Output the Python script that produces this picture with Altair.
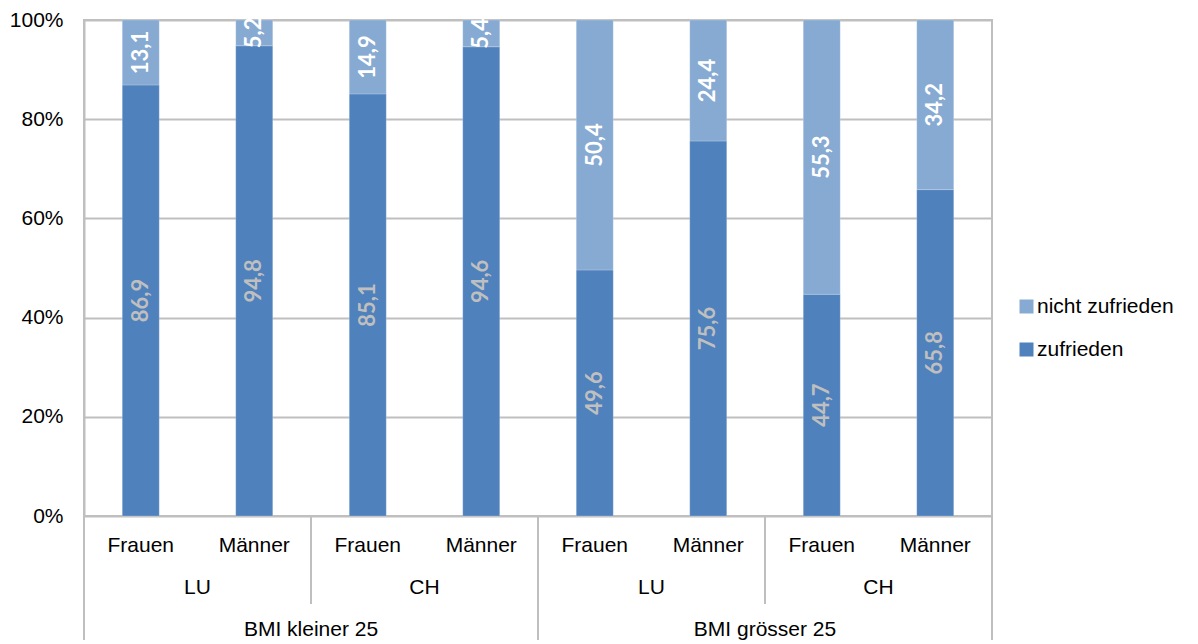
import altair as alt
import pandas as pd

bmi_groups = ["BMI kleiner 25", "BMI grösser 25"]
regions = ["LU", "CH"]
sexes = ["Frauen", "Männer"]
series = ["nicht zufrieden", "zufrieden"]
zufrieden = [86.9, 94.8, 85.1, 94.6, 49.6, 75.6, 44.7, 65.8]
nicht_zufrieden = [13.1, 5.2, 14.9, 5.4, 50.4, 24.4, 55.3, 34.2]
y_ticks = [0, 20, 40, 60, 80, 100]

colors = {"nicht zufrieden": "#87AAD2", "zufrieden": "#4F81BD"}

rows = []
sex_rows = []
for i in range(8):
    pos = i + 0.5
    rows.append({"pos": pos, "series": "zufrieden", "ord": 0, "v": zufrieden[i]})
    rows.append({"pos": pos, "series": "nicht zufrieden", "ord": 1, "v": nicht_zufrieden[i]})
    sex_rows.append({"pos": pos, "label": sexes[i % 2]})
df = pd.DataFrame(rows)
df_sex = pd.DataFrame(sex_rows)
df_reg = pd.DataFrame({"pos": [1 + 2 * k for k in range(4)],
                       "label": [regions[k % 2] for k in range(4)]})
df_bmi = pd.DataFrame({"pos": [2, 6], "label": bmi_groups})
df_sep_short = pd.DataFrame({"pos": [2, 6]})
df_sep_long = pd.DataFrame({"pos": [0, 4, 8]})

xs = alt.Scale(domain=[0, 8], nice=False, zero=False, padding=0)
FONT = "Liberation Sans"
FS = 21

bars = alt.Chart(df).mark_bar(size=37, stroke="#FFFFFF", strokeWidth=0.5, strokeOpacity=0.4).encode(
    x=alt.X("pos:Q", scale=xs, axis=None),
    y=alt.Y("v:Q", stack="zero", scale=alt.Scale(domain=[0, 100], nice=False),
            axis=alt.Axis(values=y_ticks, labelExpr="datum.value + '%'", title=None,
                          ticks=False, labelPadding=21, labelFontSize=FS, labelFont=FONT,
                          labelColor="#000000", domainColor="#BFBFBF", domainWidth=2,
                          gridColor="#BFBFBF", gridWidth=2)),
    color=alt.Color("series:N", scale=alt.Scale(domain=series, range=[colors[s] for s in series]),
                    legend=alt.Legend(title=None, orient="none", legendX=932, legendY=276,
                                      symbolType="square", symbolSize=196, symbolStrokeWidth=0,
                                      labelFont=FONT, labelFontSize=FS, labelColor="#000000",
                                      rowPadding=21, labelOffset=0)),
    order=alt.Order("ord:Q"),
)

labels = alt.Chart(df).transform_stack(
    stack="v", groupby=["pos"], as_=["y0", "y1"], sort=[alt.SortField("ord", order="ascending")]
).transform_calculate(
    mid="(datum.y0 + datum.y1) / 2",
    txt="replace(format(datum.v, '.1f'), '.', ',')",
).mark_text(angle=270, font="Lato", fontWeight="bold", fontSize=22).encode(
    x=alt.X("pos:Q", scale=xs),
    y=alt.Y("mid:Q"),
    text="txt:N",
    color=alt.condition("datum.series == 'zufrieden'", alt.value("#BFBFBF"), alt.value("#FFFFFF")),
)

sex_text = alt.Chart(df_sex).mark_text(font=FONT, fontSize=FS, color="#000000").encode(
    x=alt.X("pos:Q", scale=xs), y=alt.value(526), text="label:N")
reg_text = alt.Chart(df_reg).mark_text(font=FONT, fontSize=FS, color="#000000").encode(
    x=alt.X("pos:Q", scale=xs), y=alt.value(568), text="label:N")
bmi_text = alt.Chart(df_bmi).mark_text(font=FONT, fontSize=FS, color="#000000").encode(
    x=alt.X("pos:Q", scale=xs), y=alt.value(610), text="label:N")

sep_short = alt.Chart(df_sep_short).mark_rule(color="#BFBFBF", strokeWidth=2).encode(
    x=alt.X("pos:Q", scale=xs), y=alt.value(496), y2=alt.value(584))
sep_long = alt.Chart(df_sep_long).mark_rule(color="#BFBFBF", strokeWidth=2).encode(
    x=alt.X("pos:Q", scale=xs), y=alt.value(496), y2=alt.value(624))

chart = alt.layer(bars, labels, sex_text, reg_text, bmi_text, sep_short, sep_long).properties(
    width=908, height=496,
    padding={"left": 76, "top": 12, "right": 198, "bottom": 124},
    autosize=alt.AutoSizeParams(type="none"),
).configure_view(stroke="#BFBFBF", strokeWidth=2)

chart.save("out.html", embed_options={"renderer": "svg", "actions": False})
